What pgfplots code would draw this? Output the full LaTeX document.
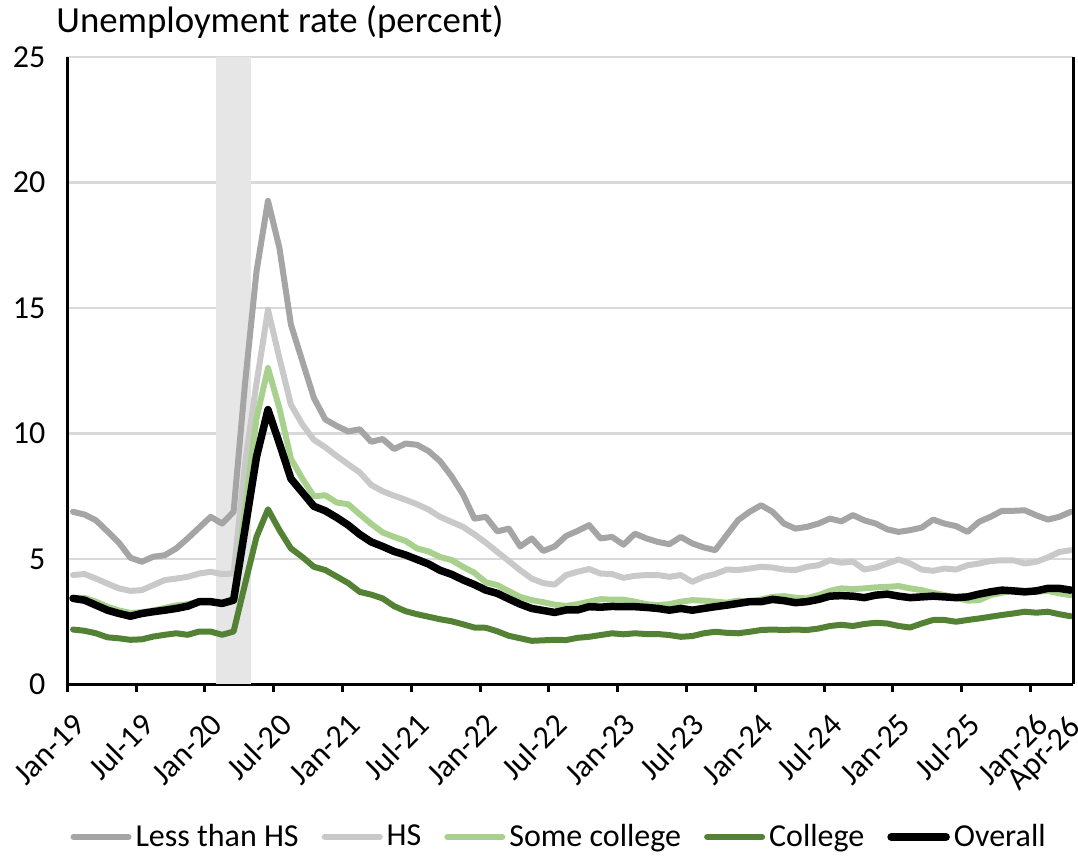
\documentclass[border=0pt]{standalone}
\usepackage{pgfplots}
\pgfplotsset{compat=1.18}
\usepackage{pgfplotstable}
\usepackage{fontspec}
\setmainfont{Carlito}

\definecolor{lths}{HTML}{A5A5A5}
\definecolor{hs}{HTML}{C9C9C9}
\definecolor{somecol}{HTML}{A9D18E}
\definecolor{coll}{HTML}{548235}
\definecolor{recess}{HTML}{E6E6E6}
\definecolor{gridc}{HTML}{D9D9D9}

% 3-month rates by education, Jan-19 .. Apr-26 (m = months since Jan-19)
\pgfplotstableread{
m lths hs some coll all
0 6.88 4.36 3.45 2.19 3.43
1 6.77 4.40 3.45 2.14 3.36
2 6.54 4.22 3.30 2.04 3.16
3 6.10 4.02 3.10 1.88 2.96
4 5.65 3.83 2.95 1.84 2.83
5 5.05 3.73 2.85 1.78 2.72
6 4.89 3.76 2.88 1.80 2.83
7 5.09 3.96 2.95 1.91 2.90
8 5.15 4.16 3.05 1.98 2.96
9 5.42 4.22 3.15 2.04 3.03
10 5.82 4.29 3.20 1.98 3.12
11 6.25 4.42 3.30 2.11 3.30
12 6.68 4.49 3.30 2.11 3.30
13 6.41 4.40 3.25 1.98 3.23
14 6.88 4.42 3.40 2.11 3.36
15 12.00 8.80 7.00 4.00 6.20
16 16.46 12.00 10.60 5.88 9.07
17 19.27 14.93 12.61 6.98 10.95
18 17.39 13.00 11.00 6.15 9.60
19 14.34 11.15 9.00 5.42 8.20
20 12.88 10.36 8.20 5.08 7.65
21 11.42 9.75 7.50 4.69 7.10
22 10.56 9.45 7.54 4.56 6.92
23 10.30 9.10 7.25 4.30 6.65
24 10.08 8.77 7.18 4.04 6.35
25 10.17 8.45 6.78 3.69 5.98
26 9.67 7.95 6.40 3.58 5.68
27 9.78 7.70 6.06 3.43 5.50
28 9.38 7.52 5.88 3.12 5.30
29 9.60 7.36 5.72 2.92 5.16
30 9.55 7.18 5.42 2.80 4.98
31 9.30 6.97 5.30 2.70 4.80
32 8.90 6.68 5.08 2.60 4.55
33 8.30 6.48 4.96 2.52 4.39
34 7.58 6.28 4.69 2.40 4.17
35 6.61 5.98 4.45 2.27 3.98
36 6.68 5.65 4.07 2.26 3.76
37 6.10 5.28 3.96 2.12 3.63
38 6.21 4.92 3.72 1.94 3.41
39 5.50 4.55 3.49 1.84 3.20
40 5.82 4.22 3.36 1.74 3.03
41 5.32 4.04 3.28 1.76 2.95
42 5.50 3.98 3.18 1.78 2.87
43 5.92 4.36 3.13 1.77 2.97
44 6.12 4.49 3.20 1.86 2.97
45 6.35 4.60 3.30 1.90 3.10
46 5.82 4.42 3.40 1.97 3.08
47 5.88 4.40 3.38 2.04 3.11
48 5.57 4.25 3.38 2.00 3.10
49 6.01 4.33 3.30 2.04 3.10
50 5.82 4.36 3.20 2.01 3.07
51 5.68 4.36 3.16 2.01 3.03
52 5.59 4.29 3.20 1.97 2.96
53 5.88 4.36 3.30 1.90 3.03
54 5.62 4.09 3.36 1.93 2.96
55 5.46 4.29 3.34 2.04 3.03
56 5.35 4.40 3.30 2.10 3.10
57 5.95 4.58 3.26 2.06 3.16
58 6.55 4.56 3.34 2.04 3.23
59 6.88 4.62 3.30 2.10 3.30
60 7.14 4.69 3.39 2.17 3.30
61 6.88 4.66 3.49 2.19 3.39
62 6.41 4.58 3.52 2.17 3.34
63 6.21 4.56 3.46 2.19 3.26
64 6.28 4.69 3.43 2.17 3.30
65 6.41 4.75 3.56 2.23 3.39
66 6.61 4.95 3.73 2.33 3.52
67 6.50 4.85 3.83 2.38 3.54
68 6.75 4.90 3.80 2.33 3.52
69 6.54 4.58 3.83 2.41 3.46
70 6.41 4.66 3.87 2.46 3.56
71 6.18 4.82 3.89 2.43 3.60
72 6.08 4.98 3.92 2.33 3.52
73 6.15 4.82 3.83 2.27 3.46
74 6.25 4.58 3.76 2.43 3.49
75 6.57 4.53 3.65 2.57 3.52
76 6.41 4.62 3.56 2.57 3.49
77 6.31 4.58 3.46 2.50 3.46
78 6.08 4.75 3.34 2.57 3.49
79 6.48 4.82 3.36 2.63 3.60
80 6.68 4.92 3.56 2.70 3.69
81 6.92 4.95 3.65 2.77 3.76
82 6.92 4.95 3.76 2.83 3.73
83 6.94 4.82 3.73 2.90 3.69
84 6.74 4.89 3.69 2.86 3.73
85 6.57 5.06 3.73 2.90 3.83
86 6.68 5.28 3.63 2.80 3.83
87 6.88 5.35 3.56 2.72 3.76
}\rates

\begin{document}
\begin{tikzpicture}
\path[use as bounding box] (-33.65pt,-85.75pt) rectangle (505.35pt,342.25pt);
\begin{axis}[
    name=ax, at={(0pt,0pt)}, anchor=south west,
    scale only axis, width=502.85pt, height=313.75pt,
    xmin=0, xmax=87.7, ymin=0, ymax=25,
    axis x line*=bottom, axis y line*=left,
    axis line style={black, line width=1.5pt},
    xtick={0,6,...,84},
    xticklabels={Jan-19,Jul-19,Jan-20,Jul-20,Jan-21,Jul-21,Jan-22,Jul-22,Jan-23,Jul-23,Jan-24,Jul-24,Jan-25,Jul-25,Jan-26},
    extra x ticks={87}, extra x tick labels={Apr-26},
    extra x tick style={major tick length=0pt, xticklabel style={xshift=-4.5pt, yshift=-3.9pt}},
    x tick style={black, line width=1.5pt},
    major tick length=4pt, tick align=outside,
    ytick={0,5,...,25}, y tick style={draw=none},
    ymajorgrids, grid style={gridc, line width=1.2pt},
    tick label style={font=\fontsize{16}{18}\selectfont},
    /pgf/number format/assume math mode=true,
    xticklabel style={xshift=8.5pt, yshift=-11pt, rotate=45, anchor=east},
    yticklabel style={xshift=-3.5pt},
    legend columns=5,
    legend style={at={(axis description cs:0.49,-0.243)}, anchor=center,
        draw=none, fill=none, font=\fontsize{16}{18}\selectfont,
        /tikz/every even column/.append style={column sep=9.5pt}},
    legend cell align=left,
    legend image code/.code={\draw[#1] (0pt,0pt) -- (27.5pt,0pt);},
    every axis plot/.append style={line join=round, line cap=round},
]
    \addplot[fill=recess, draw=none, forget plot] coordinates {(13,25) (16,25)} \closedcycle;
    \addplot[lths, line width=3pt] table[x expr=\thisrow{m}+0.5, y=lths] {\rates};
    \addlegendentry{Less than HS}
    \addplot[hs, line width=3pt] table[x expr=\thisrow{m}+0.5, y=hs] {\rates};
    \addlegendentry{HS}
    \addplot[somecol, line width=3pt] table[x expr=\thisrow{m}+0.5, y=some] {\rates};
    \addlegendentry{Some college}
    \addplot[coll, line width=3pt] table[x expr=\thisrow{m}+0.5, y=coll] {\rates};
    \addlegendentry{College}
    \addplot[black, line width=3.75pt] table[x expr=\thisrow{m}+0.5, y=all] {\rates};
    \addlegendentry{Overall}
\end{axis}
\draw[black, line width=1.5pt] (ax.south east) -- (ax.north east);
\node[anchor=base west, inner sep=0pt, font=\fontsize{18.4}{20}\selectfont]
    at (-5.65pt,325.75pt) {Unemployment rate (percent)};
\end{tikzpicture}
\end{document}
